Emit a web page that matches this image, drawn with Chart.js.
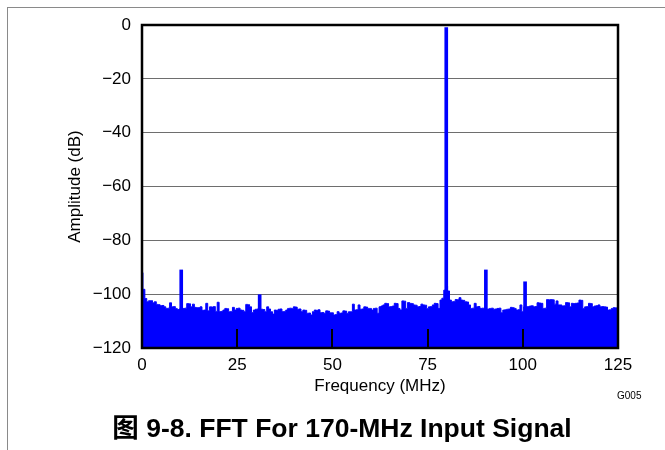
<!DOCTYPE html>
<html>
<head>
<meta charset="utf-8">
<script src="https://cdn.jsdelivr.net/npm/chart.js@4/dist/chart.umd.min.js"></script>
<style>
  html, body { margin: 0; padding: 0; background: #fff; }
  #wrap { position: relative; width: 665px; height: 450px; overflow: hidden; background: #fff; }
  #frame { position: absolute; left: 7px; top: 7px; right: 0; bottom: 0; border-top: 1px solid #8a8a8a; border-left: 1px solid #8a8a8a; }
  canvas { position: absolute; left: 0; top: 0; }
  #caption { position: absolute; left: 0; width: 684px; top: 413px; text-align: center;
    font: bold 26.5px "Liberation Sans", Arial, "Noto Sans CJK SC", sans-serif; line-height: 30px; color: #000; white-space: nowrap; }
  #gid { position: absolute; left: 617px; top: 390px; font: 10px "Liberation Sans", Arial, sans-serif; line-height: 12px; color: #000; }
</style>
</head>
<body>
<div id="wrap">
  <div id="frame"></div>
  <canvas id="c" width="665" height="450"></canvas>
  <div id="gid">G005</div>
  <div id="caption">图 9-8. FFT For 170-MHz Input Signal</div>
</div>
<script>
// ---- data ----
const xTickValues = [0, 25, 50, 75, 100, 125];
const yTickValues = [0, -20, -40, -60, -80, -100, -120];
const innerTickValues = [25, 50, 75, 100];

const freqMHz = [
  0,0.5,1,1.5,2,2.5,3,3.5,4,4.5,
  5,5.5,6,6.5,7,7.5,8,8.5,9,9.5,
  10,10.5,11,11.5,12,12.5,13,13.5,14,14.5,
  15,15.5,16,16.5,17,17.5,18,18.5,19,19.5,
  20,20.5,21,21.5,22,22.5,23,23.5,24,24.5,
  25,25.5,26,26.5,27,27.5,28,28.5,29,29.5,
  30,30.5,31,31.5,32,32.5,33,33.5,34,34.5,
  35,35.5,36,36.5,37,37.5,38,38.5,39,39.5,
  40,40.5,41,41.5,42,42.5,43,43.5,44,44.5,
  45,45.5,46,46.5,47,47.5,48,48.5,49,49.5,
  50,50.5,51,51.5,52,52.5,53,53.5,54,54.5,
  55,55.5,56,56.5,57,57.5,58,58.5,59,59.5,
  60,60.5,61,61.5,62,62.5,63,63.5,64,64.5,
  65,65.5,66,66.5,67,67.5,68,68.5,69,69.5,
  70,70.5,71,71.5,72,72.5,73,73.5,74,74.5,
  75,75.5,76,76.5,77,77.5,78,78.5,79,79.5,
  80,80.5,81,81.5,82,82.5,83,83.5,84,84.5,
  85,85.5,86,86.5,87,87.5,88,88.5,89,89.5,
  90,90.5,91,91.5,92,92.5,93,93.5,94,94.5,
  95,95.5,96,96.5,97,97.5,98,98.5,99,99.5,
  100,100.5,101,101.5,102,102.5,103,103.5,104,104.5,
  105,105.5,106,106.5,107,107.5,108,108.5,109,109.5,
  110,110.5,111,111.5,112,112.5,113,113.5,114,114.5,
  115,115.5,116,116.5,117,117.5,118,118.5,119,119.5,
  120,120.5,121,121.5,122,122.5,123,123.5,124,124.5,
  125
];

const noiseDb = [
  -92.0,-98.2,-101.6,-102.8,-102.4,-102.4,-103.2,-102.8,-103.8,-103.9,
  -104.3,-104.2,-104.7,-105.3,-105.2,-103.2,-104.7,-104.6,-105.3,-105.7,
  -105.5,-105.3,-105.3,-105.2,-103.5,-103.6,-104.7,-103.7,-104.9,-105.0,
  -105.0,-104.7,-106.0,-105.9,-103.4,-106.2,-104.7,-104.8,-104.6,-106.4,
  -103.0,-106.5,-106.4,-105.9,-105.3,-105.4,-106.5,-106.4,-104.9,-105.9,
  -105.3,-105.2,-105.9,-106.0,-106.5,-103.8,-103.9,-104.7,-106.8,-105.9,
  -105.6,-105.5,-105.6,-105.6,-105.7,-106.5,-104.7,-105.5,-106.5,-107.4,
  -105.9,-106.0,-105.6,-105.5,-106.5,-106.4,-105.9,-105.3,-105.2,-105.3,
  -104.7,-104.8,-105.6,-105.5,-106.5,-105.9,-106.0,-107.1,-107.0,-107.7,
  -106.5,-105.9,-106.0,-105.8,-106.9,-106.8,-107.1,-106.2,-106.3,-106.9,
  -106.9,-107.7,-107.6,-106.5,-107.1,-107.0,-106.2,-106.3,-107.1,-106.5,
  -106.5,-103.7,-105.9,-105.8,-104.0,-105.6,-105.5,-104.7,-104.8,-105.3,
  -105.3,-105.9,-105.3,-105.2,-107.1,-104.7,-104.4,-104.0,-103.4,-103.5,
  -104.7,-104.6,-104.4,-103.4,-103.5,-105.3,-105.9,-102.5,-102.6,-105.3,
  -103.1,-103.4,-103.5,-104.0,-104.1,-104.7,-104.6,-103.7,-104.0,-104.1,
  -105.3,-104.7,-104.6,-104.0,-103.4,-103.5,-105.3,-102.2,-101.5,-98.5,
  -97.0,-98.8,-102.2,-102.8,-102.7,-102.0,-102.1,-101.3,-102.2,-102.3,
  -102.8,-102.9,-104.0,-105.3,-105.2,-103.4,-104.7,-104.6,-105.3,-105.2,
  -105.3,-105.6,-105.5,-105.3,-105.2,-105.6,-105.5,-105.3,-105.2,-106.9,
  -105.9,-105.8,-105.6,-105.5,-104.9,-105.0,-105.3,-105.9,-105.8,-104.0,
  -106.5,-104.7,-104.7,-104.6,-104.4,-104.3,-104.7,-104.6,-103.2,-103.3,
  -103.4,-105.3,-105.2,-102.0,-102.1,-102.0,-102.1,-103.7,-102.5,-104.0,
  -104.0,-104.4,-104.3,-103.1,-103.2,-104.7,-103.4,-103.5,-103.4,-103.3,
  -102.2,-102.3,-105.3,-104.7,-104.6,-103.4,-103.5,-104.7,-104.4,-104.3,
  -104.0,-104.7,-104.6,-104.7,-104.8,-105.9,-105.8,-105.3,-105.0,-105.1,
  -105.0
];

// spurs / fundamental
const spurFreqMHz = [10.3, 30.9, 79.9, 90.3, 100.6];
const spurDb      = [-91.0, -100.2, -1.0, -91.0, -95.4];

const yMin = -120, yMax = 0, xMin = 0, xMax = 125;
const blue = '#0000ff';

const noisePoints = freqMHz.map((f, i) => ({ x: f, y: noiseDb[i] }));
const spurPoints = spurFreqMHz.map((f, i) => ({ x: f, y: [yMin, spurDb[i]] }));

const minusFmt = v => (v < 0 ? '\u2212' + Math.abs(v) : String(v));

const framePlugin = {
  id: 'frameAndInnerTicks',
  afterDatasetsDraw(chart) {
    const { ctx, chartArea: a, scales: { x } } = chart;
    ctx.save();
    ctx.strokeStyle = '#000';
    ctx.lineWidth = 2;
    innerTickValues.forEach(v => {
      const px = Math.round(x.getPixelForValue(v));
      ctx.beginPath();
      ctx.moveTo(px, a.bottom);
      ctx.lineTo(px, a.bottom - 19);
      ctx.stroke();
    });
    ctx.lineWidth = 2.5;
    ctx.strokeRect(a.left, a.top, a.right - a.left, a.bottom - a.top);
    ctx.restore();
  }
};

Chart.defaults.font.family = "'Liberation Sans', Arial, sans-serif";
Chart.defaults.color = '#000';

new Chart(document.getElementById('c'), {
  type: 'line',
  data: {
    datasets: [
      {
        type: 'line',
        data: noisePoints,
        borderColor: blue,
        backgroundColor: blue,
        borderWidth: 1,
        pointRadius: 0,
        fill: 'start',
        stepped: 'middle',
        tension: 0
      },
      {
        type: 'bar',
        data: spurPoints,
        backgroundColor: blue,
        borderWidth: 0,
        barThickness: 3,
        grouped: false
      }
    ]
  },
  options: {
    responsive: false,
    animation: false,
    events: [],
    layout: { padding: { left: 65, top: 25, right: 47, bottom: 53 } },
    plugins: { legend: { display: false }, tooltip: { enabled: false } },
    scales: {
      x: {
        type: 'linear', min: xMin, max: xMax, offset: false,
        afterBuildTicks: s => { s.ticks = xTickValues.map(v => ({ value: v })); },
        grid: { display: false, drawTicks: false },
        border: { display: false },
        ticks: { padding: 7, font: { size: 17 }, color: '#000', maxRotation: 0, autoSkip: false },
        title: { display: true, text: 'Frequency (MHz)', font: { size: 17 }, color: '#000', padding: 0 },
        afterFit: s => { s.height = 49; }
      },
      y: {
        type: 'linear', min: yMin, max: yMax,
        afterBuildTicks: s => { s.ticks = yTickValues.map(v => ({ value: v })); },
        grid: { color: '#6e6e6e', lineWidth: 1, drawTicks: false },
        border: { display: false },
        ticks: { padding: 11, font: { size: 17 }, color: '#000', callback: minusFmt, autoSkip: false },
        title: { display: true, text: 'Amplitude (dB)', font: { size: 17 }, color: '#000', padding: 0 },
        afterFit: s => { s.width = 77; }
      }
    }
  },
  plugins: [framePlugin]
});
</script>
</body>
</html>
